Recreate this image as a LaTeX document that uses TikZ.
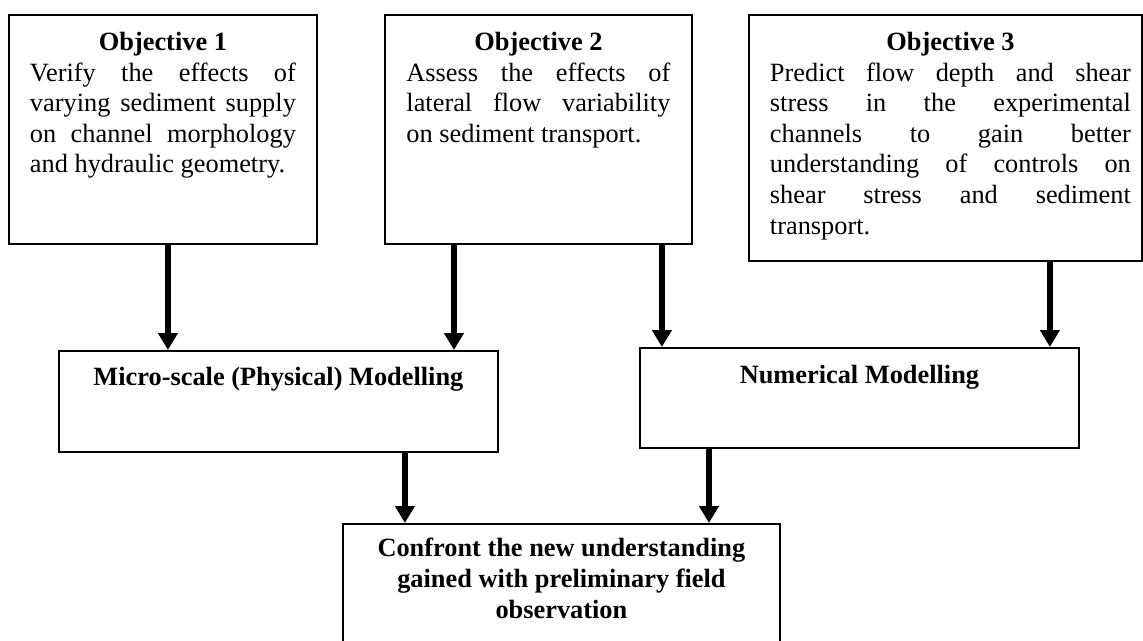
\documentclass[tikz,border=0pt]{standalone}
\usepackage{fontspec}
\setmainfont{Liberation Serif}
\usetikzlibrary{arrows.meta}

\tikzset{
  objbox/.style={draw, line width=1.1pt, anchor=north west, inner sep=0pt},
  objtext/.style={anchor=north, inner xsep=0pt, inner ysep=0.36cm, align=justify,
    font=\fontsize{15pt}{17.4pt}\selectfont},
  boldtext/.style={anchor=north, inner xsep=0pt, inner ysep=0.34cm, align=center,
    font=\fontsize{15pt}{17.4pt}\selectfont\bfseries},
  flow/.style={line width=3.4pt, -{Triangle[width=0.38cm,length=0.34cm]}}
}

\begin{document}
\begin{tikzpicture}[x=0.02cm,y=-0.02cm]
        \useasboundingbox[fill=white] (0,0) rectangle (1143,641);
        %% objectives
        \node[objbox, minimum width=6.16cm, minimum height=4.58cm] (obj1) at (8,14) {};
        \node[objbox, minimum width=6.14cm, minimum height=4.58cm] (obj2) at (384,14) {};
        \node[objbox, minimum width=7.86cm, minimum height=4.92cm] (obj3) at (748,14) {};
        \node[objtext, text width=5.32cm] (obj1txt) at (obj1.north)
            {{\centering\textbf{Objective 1}\par}Verify the effects of\linebreak varying sediment supply\linebreak on channel morphology\linebreak and hydraulic geometry.};
        \node[objtext, text width=5.28cm] (obj2txt) at (obj2.north)
            {{\centering\textbf{Objective 2}\par}Assess the effects of\linebreak lateral flow variability\linebreak on sediment transport.};
        \node[objtext, text width=7.22cm] (obj3txt) at ([xshift=0.1cm]obj3.north)
            {{\centering\textbf{Objective 3}\par}Predict flow depth and shear\linebreak stress in the experimental\linebreak channels to gain better\linebreak understanding of controls on\linebreak shear stress and sediment\linebreak transport.};
        %% modelling
        \node[objbox, minimum width=8.78cm, minimum height=2.02cm] (micro) at (58,350) {};
        \node[objbox, minimum width=8.78cm, minimum height=2.0cm] (numer) at (639,347) {};
        \node[boldtext] (microtxt) at (micro.north) {Micro-scale (Physical) Modelling};
        \node[boldtext, inner ysep=0.36cm] (numertxt) at (numer.north) {Numerical Modelling};
        %% confront
        \node[objbox, minimum width=8.74cm, minimum height=2.48cm] (conf) at (342,523) {};
        \node[boldtext, inner ysep=0.3cm] (conftxt) at (conf.north)
            {Confront the new understanding\\ gained with preliminary field\\ observation};
        %% arrows
        \draw[flow] ([xshift=0.1cm]obj1.south) -- ([xshift=0.1cm]obj1.south |- micro.north);
        \draw[flow] ([xshift=-1.69cm]obj2.south) -- ([xshift=-1.69cm]obj2.south |- micro.north);
        \draw[flow] ([xshift=2.47cm]obj2.south) -- ([xshift=2.47cm]obj2.south |- numer.north);
        \draw[flow] ([xshift=2.09cm]obj3.south) -- ([xshift=2.09cm]obj3.south |- numer.north);
        \draw[flow] ([xshift=2.53cm]micro.south) -- ([xshift=2.53cm]micro.south |- conf.north);
        \draw[flow] ([xshift=-3.01cm]numer.south) -- ([xshift=-3.01cm]numer.south |- conf.north);
    \end{tikzpicture}
\end{document}
